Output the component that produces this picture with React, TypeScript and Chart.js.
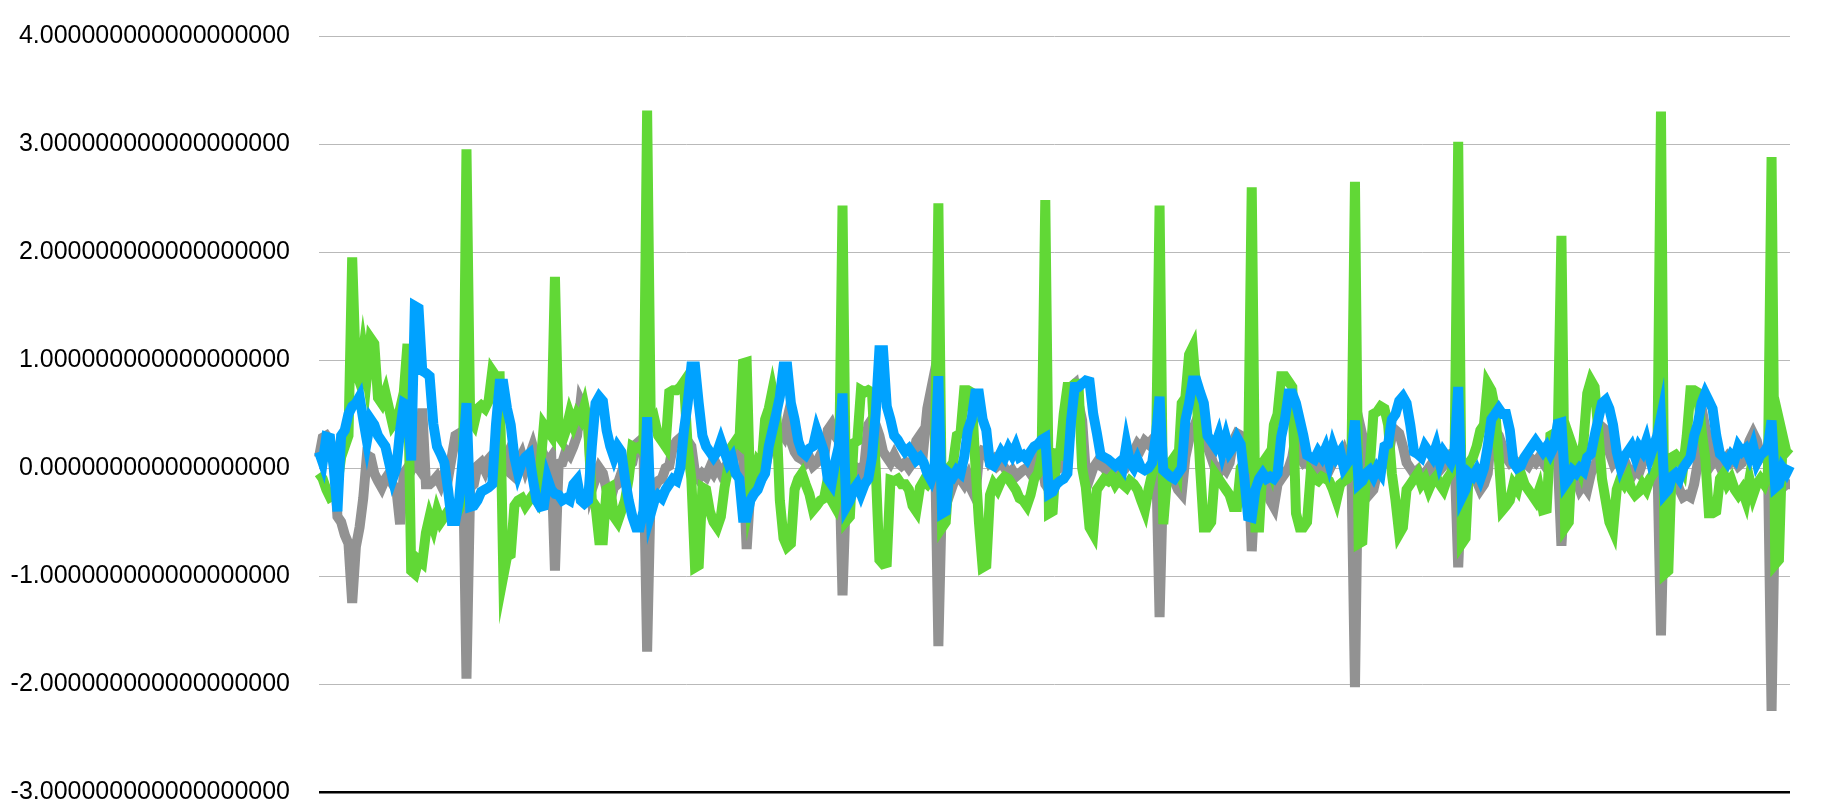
import { useEffect, useRef } from 'react';
import { Chart, registerables } from 'chart.js';

Chart.register(...registerables);

// Series 1 (gray)
const GRAY: number[] = [
  0.10, 0.28, 0.30, 0.25, 0.15, -0.45, -0.50, -0.62, -0.70, -1.25,
  -0.73, -0.55, -0.28, 0.12, 0.10, -0.05, -0.12, -0.18, -0.10, -0.05,
  -0.15, -0.20, -0.52, -0.05, 0.00, -0.02, 0.05, 0.00, 0.55, -0.15,
  -0.15, -0.12, -0.08, -0.15, -0.05, -0.10, 0.10, 0.30, 0.32, 0.20,
  -1.95, -0.18, -0.15, 0.02, 0.05, -0.02, 0.08, 0.12, 0.15, 0.10,
  0.05, 0.12, -0.05, -0.08, 0.05, 0.12, 0.00, 0.10, 0.20, 0.08,
  0.00, 0.12, 0.05, 0.10, -0.95, 0.04, 0.05, 0.16, 0.12, 0.20,
  0.30, 0.62, 0.55, 0.40, -0.20, -0.10, 0.00, -0.05, -0.20, -0.30,
  -0.18, -0.15, -0.05, 0.05, 0.02, 0.05, 0.22, 0.25, 0.20, -1.70,
  -0.15, -0.18, -0.12, -0.10, 0.00, 0.02, 0.20, 0.25, 0.28, 0.22,
  0.25, 0.20, -0.05, -0.10, -0.05, -0.08, 0.00, -0.05, 0.02, -0.05,
  0.00, -0.03, 0.05, 0.15, 0.20, 0.10, -0.75, -0.20, -0.15, -0.12,
  -0.10, 0.00, 0.15, 0.30, 0.25, 0.35, 0.30, 0.45, 0.25, 0.15,
  0.10, 0.08, 0.05, 0.10, 0.02, 0.05, 0.12, 0.10, 0.35, 0.40,
  0.30, 0.25, -1.18, -0.15, -0.10, 0.02, 0.00, -0.05, 0.05, 0.40,
  0.45, 0.40, 0.30, 0.15, 0.10, 0.05, 0.12, 0.05, 0.02, 0.05,
  0.00, 0.05, 0.25, 0.30, 0.20, 0.55, 0.72, 0.40, -1.65, -0.20,
  -0.18, -0.25, -0.15, -0.05, -0.10, -0.15, -0.08, -0.20, -0.27, 0.10,
  0.16, 0.15, 0.05, 0.08, 0.02, 0.05, 0.00, -0.05, -0.02, -0.08,
  -0.05, -0.02, 0.00, -0.05, 0.05, 0.10, 0.08, -0.15, -0.20, -0.05,
  -0.02, 0.00, 0.10, 0.70, 0.75, 0.78, 0.60, 0.44, -0.05, -0.10,
  0.00, 0.05, 0.02, 0.00, -0.05, 0.00, -0.05, -0.02, 0.05, 0.02,
  0.08, 0.15, 0.22, 0.18, 0.25, 0.22, 0.26, 0.20, -1.38, -0.05,
  -0.08, -0.05, -0.12, -0.20, -0.24, 0.10, 0.26, 0.35, 0.44, 0.40,
  0.30, 0.20, 0.10, 0.00, -0.05, 0.02, -0.02, 0.05, 0.25, 0.32,
  0.30, 0.25, 0.10, -0.77, -0.10, -0.05, 0.00, -0.10, -0.30, -0.36,
  -0.15, -0.10, -0.05, 0.00, 0.10, 0.30, 0.10, 0.05, 0.08, 0.00,
  -0.02, 0.02, -0.03, 0.00, -0.02, 0.05, 0.12, 0.08, 0.15, 0.05,
  0.10, -2.03, 0.45, 0.30, -0.10, -0.24, -0.20, -0.05, 0.00, 0.05,
  0.10, 0.30, 0.35, 0.32, 0.20, 0.05, 0.00, -0.05, -0.02, -0.10,
  -0.05, 0.00, -0.05, 0.05, -0.02, 0.02, 0.10, 0.13, 0.13, -0.92,
  -0.10, -0.05, -0.10, -0.05, -0.12, -0.20, -0.15, -0.05, 0.30, 0.35,
  0.30, 0.20, 0.10, 0.05, 0.08, 0.05, 0.02, 0.05, 0.02, 0.08,
  0.05, 0.10, 0.05, 0.12, 0.08, 0.15, 0.10, -0.72, -0.10, -0.05,
  -0.02, -0.10, -0.20, -0.15, -0.20, -0.05, 0.02, 0.10, 0.38, 0.35,
  0.15, 0.05, 0.10, 0.02, -0.05, 0.00, -0.08, -0.02, -0.05, 0.05,
  0.10, 0.08, 0.12, 0.10, -1.55, -0.10, -0.08, -0.15, -0.10, -0.20,
  -0.27, -0.25, -0.27, -0.15, 0.05, 0.20, 0.38, 0.20, 0.05, 0.10,
  0.02, 0.05, 0.10, 0.05, 0.08, 0.02, 0.05, 0.12, 0.25, 0.32,
  0.25, 0.10, 0.15, 0.10, -2.25, -0.15, -0.12, -0.18, -0.15, -0.15,
];

// Series 2 (green)
const GREEN: number[] = [
  -0.05, -0.10, -0.20, -0.27, -0.25, -0.15, 0.10, 0.20, 0.30, 1.95,
  0.90, 0.80, 1.08, 0.85, 1.20, 1.15, 0.65, 0.60, 0.70, 0.55,
  0.40, 0.45, 0.55, 0.70, 1.15, -0.95, -0.98, -0.85, -0.88, -0.60,
  -0.45, -0.55, -0.40, -0.50, -0.45, -0.40, -0.45, -0.45, -0.38, -0.20,
  2.95, 0.45, 0.40, 0.55, 0.58, 0.55, 0.62, 0.90, 0.85, 0.85,
  -1.00, -0.82, -0.80, -0.35, -0.30, -0.28, -0.35, -0.30, -0.25, -0.30,
  0.00, 0.40, 0.35, 0.30, 1.77, 0.30, 0.25, 0.35, 0.50, 0.40,
  0.50, 0.45, 0.57, 0.40, -0.30, -0.35, -0.67, -0.67, -0.20, -0.18,
  -0.45, -0.50, -0.40, -0.30, -0.10, 0.20, 0.18, 0.20, 0.15, 3.31,
  0.40, 0.45, 0.30, 0.25, 0.20, 0.70, 0.72, 0.72, 0.75, 0.80,
  0.20, -0.10, -0.92, -0.90, -0.18, -0.20, -0.40, -0.50, -0.55, -0.45,
  -0.18, 0.00, 0.20, 0.25, 0.22, 0.97, 0.98, -0.27, -0.10, 0.05,
  0.00, 0.45, 0.55, 0.72, 0.55, -0.30, -0.65, -0.73, -0.70, -0.20,
  -0.10, -0.05, -0.15, -0.24, -0.39, -0.35, -0.30, -0.28, -0.10, -0.30,
  -0.36, -0.20, 2.43, -0.49, -0.45, 0.23, 0.25, 0.72, 0.70, 0.72,
  0.70, 0.00, -0.85, -0.89, -0.88, -0.11, -0.12, -0.10, -0.15, -0.15,
  -0.20, -0.35, -0.40, -0.18, -0.12, -0.15, -0.10, -0.05, 2.45, -0.55,
  -0.50, 0.00, 0.05, 0.30, 0.32, 0.72, 0.72, 0.70, 0.05, -0.50,
  -0.92, -0.90, -0.25, -0.15, -0.20, -0.12, -0.08, -0.10, -0.15, -0.20,
  -0.28, -0.30, -0.35, -0.25, -0.10, -0.05, 0.10, 2.48, -0.42, -0.40,
  0.13, 0.12, 0.50, 0.75, 0.75, 0.78, 0.78, 0.00, -0.18, -0.55,
  -0.61, -0.20, -0.15, -0.10, -0.12, -0.08, -0.15, -0.10, -0.15, -0.18,
  -0.12, -0.15, -0.20, -0.30, -0.39, -0.20, -0.05, 0.05, 2.43, -0.52,
  -0.10, 0.05, 0.10, 0.00, 0.60, 0.65, 1.05, 1.12, 0.70, 0.00,
  -0.55, -0.55, -0.50, -0.05, -0.10, -0.15, -0.20, -0.25, -0.36, -0.36,
  0.00, 0.05, 0.02, 2.60, -0.55, -0.55, 0.05, 0.10, 0.00, 0.40,
  0.50, 0.85, 0.85, 0.80, 0.75, -0.42, -0.55, -0.55, -0.50, -0.05,
  -0.10, -0.12, -0.08, -0.10, -0.12, -0.20, -0.30, -0.15, -0.12, -0.10,
  -0.05, 2.65, -0.70, -0.68, -0.05, 0.00, 0.50, 0.52, 0.57, 0.55,
  0.40, -0.05, -0.30, -0.61, -0.55, -0.20, -0.15, -0.10, -0.05, -0.15,
  -0.10, -0.20, -0.12, -0.08, -0.15, -0.20, -0.10, -0.05, 0.05, 3.02,
  -0.70, -0.65, 0.05, 0.10, 0.20, 0.35, 0.40, 0.78, 0.72, 0.55,
  0.10, -0.39, -0.35, -0.30, -0.15, -0.20, -0.05, -0.15, -0.20, -0.25,
  -0.30, -0.20, -0.39, -0.38, 0.30, 0.32, 0.30, 2.15, -0.55, -0.50,
  0.20, 0.10, 0.00, 0.25, 0.69, 0.81, 0.75, 0.35, -0.10, -0.30,
  -0.50, -0.58, -0.20, -0.10, -0.15, -0.08, -0.20, -0.25, -0.22, -0.15,
  -0.20, -0.10, -0.05, 0.00, 3.30, -0.98, -0.95, 0.10, 0.12, 0.08,
  0.00, 0.30, 0.72, 0.72, 0.70, 0.35, 0.10, -0.42, -0.42, -0.40,
  -0.10, -0.05, -0.15, -0.10, -0.20, -0.25, -0.20, -0.30, -0.10, -0.25,
  -0.15, -0.10, -0.15, -0.05, 2.88, -0.89, -0.85, 0.30, 0.15, 0.12,
];

// Series 3 (blue)
const BLUE: number[] = [
  0.15, 0.05, 0.29, 0.28, 0.00, -0.40, 0.30, 0.35, 0.50, 0.57,
  0.60, 0.66, 0.45, 0.25, 0.45, 0.40, 0.30, 0.25, 0.20, 0.05,
  -0.10, 0.00, 0.35, 0.60, 0.58, 0.07, 1.50, 1.48, 0.90, 0.88,
  0.85, 0.41, 0.20, 0.13, 0.05, -0.20, -0.49, -0.49, -0.30, 0.10,
  0.60, -0.36, -0.35, -0.30, -0.22, -0.20, -0.18, -0.15, 0.40, 0.78,
  0.78, 0.55, 0.40, 0.10, -0.05, 0.05, 0.10, 0.13, -0.10, -0.30,
  -0.36, -0.35, -0.10, -0.20, -0.24, -0.25, -0.30, -0.28, -0.30, -0.15,
  -0.11, -0.30, -0.33, -0.30, 0.20, 0.60, 0.66, 0.62, 0.35, 0.20,
  0.10, 0.20, 0.15, -0.10, -0.30, -0.45, -0.55, -0.55, -0.40, 0.47,
  -0.42, -0.30, -0.25, -0.28, -0.20, -0.15, -0.10, -0.12, 0.00, 0.35,
  0.60, 0.94, 0.94, 0.60, 0.30, 0.20, 0.15, 0.10, 0.15, 0.25,
  0.15, 0.05, 0.10, -0.05, -0.10, -0.46, -0.46, -0.30, -0.24, -0.20,
  -0.11, -0.05, 0.20, 0.35, 0.50, 0.66, 0.94, 0.94, 0.60, 0.45,
  0.25, 0.15, 0.12, 0.18, 0.20, 0.35, 0.25, 0.15, -0.10, -0.15,
  0.05, 0.20, 0.69, -0.36, -0.30, -0.20, -0.15, -0.24, -0.15, -0.10,
  0.10, 0.50, 1.09, 1.09, 0.57, 0.45, 0.30, 0.26, 0.20, 0.15,
  0.18, 0.13, 0.07, 0.10, 0.05, -0.05, -0.11, 0.00, 0.85, -0.42,
  -0.40, -0.05, -0.08, -0.02, -0.05, 0.10, 0.35, 0.45, 0.69, 0.69,
  0.45, 0.35, 0.04, 0.02, 0.08, 0.15, 0.10, 0.18, 0.12, 0.20,
  0.10, 0.12, 0.08, 0.15, 0.20, 0.22, 0.26, 0.28, -0.24, -0.22,
  -0.15, -0.12, -0.10, -0.05, 0.44, 0.75, 0.75, 0.78, 0.81, 0.80,
  0.50, 0.32, 0.12, 0.10, 0.08, 0.05, 0.02, 0.05, 0.00, 0.22,
  0.05, 0.00, 0.08, 0.00, -0.02, 0.00, 0.05, 0.30, 0.66, -0.02,
  -0.05, -0.08, -0.10, -0.05, 0.00, 0.44, 0.60, 0.81, 0.81, 0.70,
  0.60, 0.30, 0.25, 0.20, 0.30, 0.15, 0.28, 0.15, 0.20, 0.28,
  0.22, -0.10, -0.45, -0.46, -0.20, -0.10, -0.05, -0.10, -0.08, -0.10,
  -0.05, 0.29, 0.45, 0.69, 0.69, 0.60, 0.45, 0.30, 0.12, 0.10,
  0.08, 0.15, 0.10, 0.18, 0.05, 0.20, 0.10, 0.15, 0.00, 0.05,
  0.10, 0.44, -0.15, -0.12, -0.05, -0.02, -0.08, 0.00, -0.05, 0.20,
  0.22, 0.45, 0.50, 0.62, 0.66, 0.60, 0.40, 0.15, 0.13, 0.10,
  0.20, 0.15, 0.10, 0.20, 0.05, 0.15, 0.10, 0.05, 0.15, 0.75,
  -0.27, -0.20, -0.05, -0.08, -0.02, -0.10, 0.00, 0.20, 0.45, 0.50,
  0.55, 0.50, 0.50, 0.35, 0.05, 0.00, 0.02, 0.10, 0.15, 0.20,
  0.25, 0.20, 0.15, 0.20, 0.13, 0.20, 0.41, 0.42, -0.15, -0.10,
  -0.02, -0.05, 0.00, -0.03, 0.10, 0.13, 0.30, 0.45, 0.60, 0.63,
  0.55, 0.40, 0.15, 0.01, 0.10, 0.15, 0.20, 0.10, 0.20, 0.15,
  0.25, 0.10, 0.20, 0.30, 0.47, -0.24, -0.20, -0.08, -0.05, -0.10,
  0.00, 0.05, 0.10, 0.30, 0.41, 0.60, 0.69, 0.62, 0.55, 0.30,
  0.13, 0.10, 0.05, 0.12, 0.08, 0.20, 0.15, 0.18, 0.10, 0.20,
  0.05, 0.12, 0.15, 0.20, 0.44, -0.18, -0.15, 0.00, -0.05, 0.02,
];

// Category axis (sample index, not shown)
const CATEGORIES: string[] = GRAY.map((_, i) => String(i + 1));

// Y axis range / tick step
const Y_MIN = -3;
const Y_MAX = 4;
const Y_STEP = 1;
const TICK_DECIMALS = 18;

export default function App() {
  const ref = useRef<HTMLCanvasElement>(null);

  useEffect(() => {
    if (!ref.current) return;
    const chart = new Chart(ref.current, {
      type: 'line',
      data: {
        labels: CATEGORIES,
        datasets: [
          { label: 'Series 1', data: GRAY, borderColor: '#929292', backgroundColor: '#929292', order: 2 },
          { label: 'Series 2', data: GREEN, borderColor: '#61D836', backgroundColor: '#61D836', order: 1 },
          { label: 'Series 3', data: BLUE, borderColor: '#00A2FF', backgroundColor: '#00A2FF', order: 0 },
        ],
      },
      options: {
        responsive: false,
        animation: false,
        layout: { padding: { top: 36, right: 48, bottom: 16, left: 0 } },
        plugins: { legend: { display: false }, tooltip: { enabled: false } },
        elements: {
          line: { borderWidth: 10, tension: 0, fill: false },
          point: { radius: 0, hoverRadius: 0 },
        },
        scales: {
          x: { display: false },
          y: {
            min: Y_MIN,
            max: Y_MAX,
            afterFit: (s: any) => { s.width = 319; },
            border: { display: false },
            grid: {
              drawTicks: true,
              tickLength: 29,
              tickColor: 'rgba(0,0,0,0)',
              color: (c: any) => (c.tick && c.tick.value === Y_MIN ? '#000000' : '#b9b9b9'),
              lineWidth: (c: any) => (c.tick && c.tick.value === Y_MIN ? 2.5 : 1),
            },
            ticks: {
              stepSize: Y_STEP,
              padding: 0,
              color: '#000000',
              font: { family: "'Liberation Sans', Helvetica, Arial, sans-serif", size: 25 },
              callback: (v: any) => Number(v).toFixed(TICK_DECIMALS),
            },
          },
        },
      },
    });
    return () => chart.destroy();
  }, []);

  return (
    <div style={{ position: 'fixed', left: 0, top: 0, width: 1838, height: 808, background: '#ffffff' }}>
      <canvas ref={ref} width={1838} height={808} style={{ display: 'block', width: 1838, height: 808 }} />
    </div>
  );
}
